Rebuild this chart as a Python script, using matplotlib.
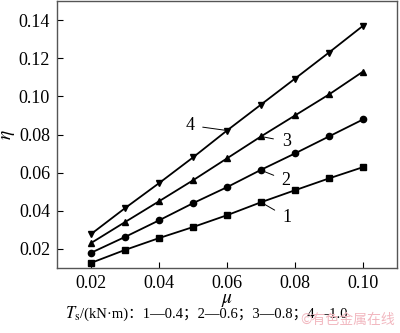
import numpy as np
import matplotlib.pyplot as plt

plt.rcParams['font.family'] = ['Liberation Serif', 'Noto Sans CJK SC']
plt.rcParams['mathtext.fontset'] = 'stix'

# friction coefficient and efficiency for four torque levels
mu = [0.02, 0.03, 0.04, 0.05, 0.06, 0.07, 0.08, 0.09, 0.10]
eta_1 = [0.0127, 0.0195, 0.0257, 0.0315, 0.0377, 0.0445, 0.0508, 0.0570, 0.0629]
eta_2 = [0.0180, 0.0263, 0.0350, 0.0440, 0.0524, 0.0615, 0.0701, 0.0790, 0.0879]
eta_3 = [0.0231, 0.0341, 0.0450, 0.0560, 0.0675, 0.0790, 0.0900, 0.1010, 0.1130]
eta_4 = [0.0278, 0.0414, 0.0545, 0.0680, 0.0821, 0.0957, 0.1093, 0.1230, 0.1370]
curve_ids = ['1', '2', '3', '4']
markers = ['s', 'o', '^', 'v']
xticks = [0.02, 0.04, 0.06, 0.08, 0.10]
yticks = [0.02, 0.04, 0.06, 0.08, 0.10, 0.12, 0.14]

fig = plt.figure(figsize=(4.0, 3.33), dpi=100)
ax = fig.add_axes([0.1425, 0.195, 0.85, 0.802])

for eta, m in zip([eta_1, eta_2, eta_3, eta_4], markers):
    ax.plot(mu, eta, color='black', lw=1.3, marker=m, ms=4.5)

# curve numbers with leader lines
label_pos = [(0.0776, 0.0367), (0.0774, 0.0560), (0.0774, 0.0764), (0.0491, 0.0848)]
anchor = [(0.07, 0.0445), (0.07, 0.0613), (0.07, 0.079), (0.06, 0.0821)]
for cid, (lx, ly), (px, py) in zip(curve_ids, label_pos, anchor):
    ax.annotate(cid, xy=(px, py), xytext=(lx, ly), fontsize=13,
                ha='center', va='center',
                arrowprops=dict(arrowstyle='-', color='black', lw=0.7,
                                shrinkA=4, shrinkB=0))

ax.set_xlim(0.01, 0.11)
ax.set_ylim(0.01, 0.15)
ax.set_xticks(xticks)
ax.set_yticks(yticks)
ax.set_xticklabels([f'{v:.2f}' for v in xticks])
ax.set_yticklabels([f'{v:.2f}' for v in yticks])
ax.tick_params(direction='in', length=4, labelsize=13, pad=5)
for s in ax.spines.values():
    s.set_color('#555555')
    s.set_linewidth(1.0)

ax.set_xlabel(r'$\mu$', fontsize=14, labelpad=0)
ax.set_ylabel(r'$\eta$', fontsize=14, labelpad=1)

# torque legend line under the axes
t_sym = fig.text(0.162, 0.057, r'$T_{\rm s}$', fontsize=12, ha='left', va='center')
ax.annotate('/(kN·m)：1—0.4；2—0.6；3—0.8；4—1.0', xy=(1.0, 0.5),
            xycoords=t_sym, fontsize=10.5, ha='left', va='center')
fig.text(0.988, 0.04, '©有色金属在线', fontsize=10, color='#f2b8c0',
         ha='right', va='center', family=['Noto Sans CJK SC', 'DejaVu Sans'])

fig.savefig('out.png', dpi=100)
